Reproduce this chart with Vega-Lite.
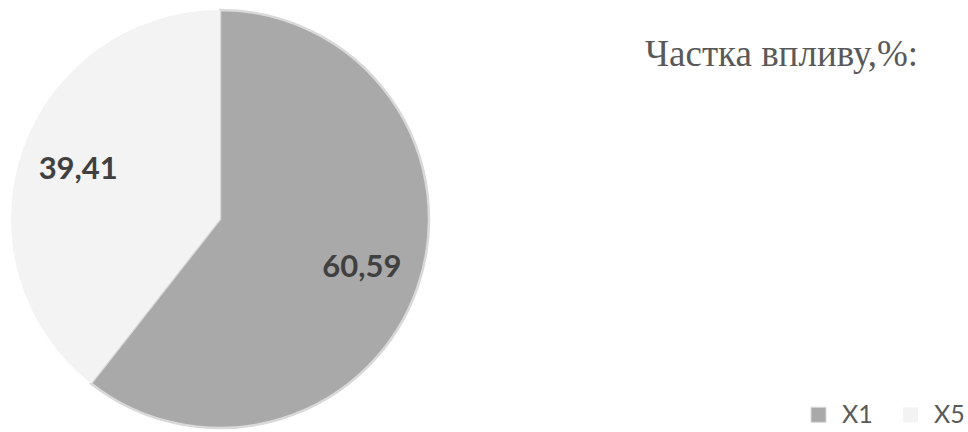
{
  "$schema": "https://vega.github.io/schema/vega-lite/v6.json",
  "autosize": {"type": "none"},
  "width": 440,
  "height": 432,
  "padding": {"left": 0, "top": 3, "right": 528, "bottom": 0},
  "background": "#ffffff",
  "title": {
    "text": "Частка впливу,%:",
    "anchor": "start",
    "frame": "group",
    "orient": "top",
    "offset": 0,
    "baseline": "alphabetic",
    "dx": 645,
    "dy": 100,
    "font": "Liberation Serif",
    "fontSize": 37,
    "fontWeight": "normal",
    "color": "#595959"
  },
  "data": {
    "values": [
      {"factor": "X1", "value": 60.59},
      {"factor": "X5", "value": 39.41}
    ]
  },
  "layer": [
    {
      "mark": {"type": "arc", "outerRadius": 209, "strokeWidth": 2.5},
      "encoding": {
        "theta": {"field": "value", "type": "quantitative", "stack": true},
        "order": {"field": "factor", "sort": "ascending"},
        "color": {
          "field": "factor",
          "type": "nominal",
          "scale": {"domain": ["X1", "X5"], "range": ["#a9a9a9", "#f3f3f3"]},
          "legend": {
            "title": null,
            "orient": "none",
            "legendX": 806,
            "legendY": 399,
            "direction": "horizontal",
            "symbolType": "square",
            "symbolSize": 225,
            "symbolStrokeColor": "#c8c8c8",
            "symbolStrokeWidth": 1,
            "labelFont": "Lato",
            "labelFontSize": 25,
            "labelColor": "#595959",
            "labelOffset": 11,
            "columnPadding": 25
          }
        },
        "stroke": {
          "field": "factor",
          "type": "nominal",
          "scale": {"domain": ["X1", "X5"], "range": ["#d9d9d9", "transparent"]},
          "legend": null
        }
      }
    },
    {
      "mark": {
        "type": "text",
        "radius": 150,
        "font": "Lato",
        "fontWeight": "bold",
        "fontSize": 31,
        "fill": "#404040"
      },
      "encoding": {
        "theta": {"field": "value", "type": "quantitative", "stack": true},
        "order": {"field": "factor", "sort": "ascending"},
        "detail": {"field": "factor", "type": "nominal"},
        "text": {"field": "value", "type": "quantitative", "format": ".2f"}
      }
    }
  ],
  "config": {
    "view": {"stroke": null},
    "locale": {
      "number": {
        "decimal": ",",
        "thousands": " ",
        "grouping": [3],
        "currency": ["", ""]
      }
    }
  }
}
